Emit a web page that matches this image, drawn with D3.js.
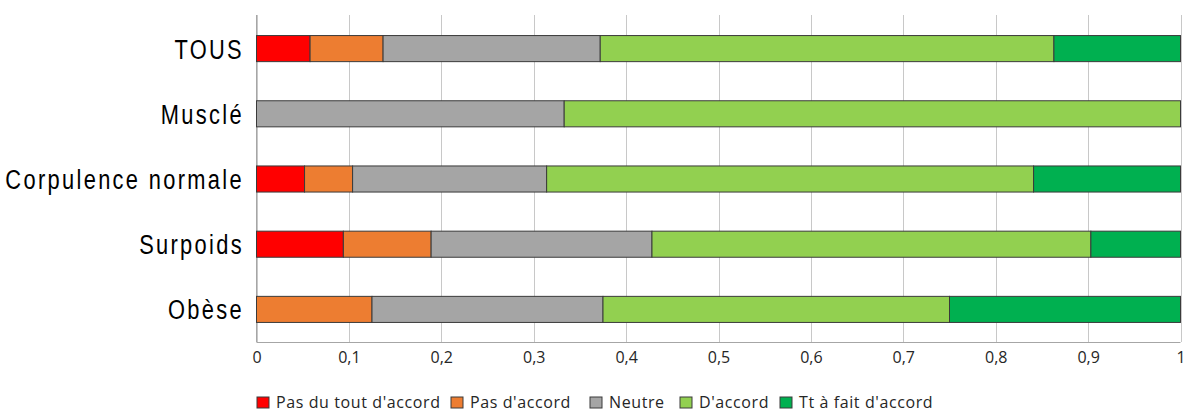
<!DOCTYPE html>
<html><head><meta charset="utf-8">
<script src="https://cdn.jsdelivr.net/npm/d3@7"></script>
<style>body{margin:0;background:#fff}</style>
</head><body>
<svg id="c" width="1185" height="412"></svg>
<script>
const categories = ["TOUS","Musclé","Corpulence normale","Surpoids","Obèse"];
const seriesNames = ["Pas du tout d'accord","Pas d'accord","Neutre","D'accord","Tt à fait d'accord"];
const pasDuTout = [0.058, 0, 0.052, 0.094, 0];
const pasDaccord = [0.079, 0, 0.052, 0.095, 0.125];
const neutre = [0.235, 0.333, 0.210, 0.239, 0.25];
const daccord = [0.491, 0.667, 0.527, 0.475, 0.375];
const ttAFait = [0.137, 0, 0.159, 0.097, 0.25];
const xTicks = [0,0.1,0.2,0.3,0.4,0.5,0.6,0.7,0.8,0.9,1];
const colors = ["#FF0000","#ED7D31","#A5A5A5","#92D050","#00B050"];

const seriesVals = [pasDuTout,pasDaccord,neutre,daccord,ttAFait];
const rows = categories.map((c,i)=>{const o={cat:c}; seriesNames.forEach((s,j)=>o[s]=seriesVals[j][i]); return o;});
const stack = d3.stack().keys(seriesNames)(rows);

const svg = d3.select("#c");
const x = d3.scaleLinear().domain([0,1]).range([256.5,1180.5]);
const y = d3.scaleBand().domain(categories).range([16,342]).paddingInner(0.6).paddingOuter(0.3);

// gridlines
svg.append("g").selectAll("line").data(xTicks).join("line")
  .attr("x1",d=>Math.round(x(d))+0.5).attr("x2",d=>Math.round(x(d))+0.5)
  .attr("y1",15).attr("y2",342).attr("stroke","#C8C8C8").attr("stroke-width",1);
// axis lines
svg.append("line").attr("x1",256.5).attr("x2",256.5).attr("y1",15).attr("y2",342).attr("stroke","#A6A6A6");
svg.append("line").attr("x1",256.5).attr("x2",1180.5).attr("y1",342.5).attr("y2",342.5).attr("stroke","#A6A6A6");

// bars
svg.append("g").selectAll("g").data(stack).join("g")
  .attr("fill",(d,i)=>colors[i])
  .selectAll("rect").data(d=>d.filter(e=>e[1]-e[0]>0)).join("rect")
  .attr("x",d=>x(d[0])).attr("width",d=>x(d[1])-x(d[0]))
  .attr("y",d=>y(d.data.cat)).attr("height",y.bandwidth())
  .attr("stroke","#3a3a3a").attr("stroke-width",1);

// x tick labels
const xAxis = d3.axisBottom(x).tickValues(xTicks).tickSize(0).tickFormat(d=>d3.format("")(d).replace(".",","));
const gx = svg.append("g").attr("transform","translate(0,343)").call(xAxis);
gx.select(".domain").remove();
gx.selectAll("text").attr("font-family","Open Sans, sans-serif").attr("font-size",16).attr("fill","#262626")
  .attr("y",20).attr("dy",0);

// y labels (condensed look)
const yAxis = d3.axisLeft(y).tickSize(0);
const gy = svg.append("g").attr("transform","translate(256,0)").call(yAxis);
gy.select(".domain").remove();
gy.selectAll("text").attr("x",0).attr("transform","translate(-12,0) scale(0.78,1)")
  .attr("font-family","Liberation Sans, Arial, sans-serif")
  .attr("font-size",28).attr("fill","#000").attr("letter-spacing","3px").attr("dy","0.36em");

// legend
const legX = [257,451,590,680,780];
const lg = svg.append("g").selectAll("g").data(seriesNames).join("g")
  .attr("transform",(d,i)=>`translate(${legX[i]},397)`);
lg.append("rect").attr("width",12).attr("height",11).attr("fill",(d,i)=>colors[i]).attr("stroke","#3a3a3a");
lg.append("text").attr("x",19).attr("y",11).text(d=>d)
  .attr("font-family","Open Sans, sans-serif").attr("font-size",16).attr("letter-spacing","0.6px").attr("fill","#262626");
</script>
</body></html>
